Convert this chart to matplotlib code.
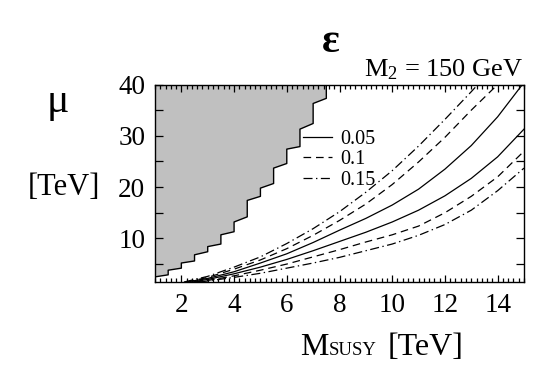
import matplotlib
matplotlib.use("Agg")
import matplotlib.pyplot as plt
from matplotlib.ticker import MultipleLocator, FixedLocator, FixedFormatter

# ---- data ----
# excluded (grey) region: staircase boundary
step_x = [7.5, 7.0, 6.5, 6.0, 5.5, 5.0, 4.5, 4.0, 3.5, 3.0, 2.5, 2.0, 1.5, 1.0]
step_top = [40.0, 36.3, 31.3, 27.4, 23.7, 19.8, 17.4, 13.2, 10.7, 8.4, 6.8, 5.2, 3.8, 2.5]
step_bottom = [37.3, 32.4, 27.9, 24.6, 20.7, 18.2, 14.2, 11.3, 8.9, 7.4, 5.6, 4.2, 2.9, 2.5]

eps_labels = ["0.05", "0.1", "0.15"]

# eps = 0.05 (solid)
up005_x = [2.2, 3, 4, 5, 6, 7, 8, 9, 10, 11, 12, 13, 14, 14.94]
up005_y = [1.5, 2.2, 3.5, 5.2, 7.0, 9.2, 11.6, 13.9, 16.5, 19.6, 23.5, 28.1, 33.7, 40.0]
lo005_x = [2.4, 3, 4, 5, 6, 7, 8, 9, 10, 11, 12, 13, 14, 15]
lo005_y = [1.5, 2.0, 3.1, 4.4, 5.9, 7.6, 9.4, 11.2, 13.2, 15.5, 18.3, 21.7, 25.9, 31.3]
# eps = 0.1 (dashed)
up01_x = [2.2, 3, 4, 5, 6, 7, 8, 9, 10, 11, 12, 13, 14.0]
up01_y = [1.5, 2.4, 4.0, 5.8, 8.0, 10.6, 13.5, 16.7, 20.5, 24.9, 29.7, 35.0, 40.0]
lo01_x = [2.5, 3, 4, 5, 6, 7, 8, 9, 10, 11, 12, 13, 14, 15]
lo01_y = [1.5, 1.8, 2.7, 3.8, 5.0, 6.4, 7.8, 9.3, 10.7, 12.4, 15.0, 18.2, 22.0, 27.0]
# eps = 0.15 (dash-dot)
up015_x = [2.1, 3, 4, 5, 6, 7, 8, 9, 10, 11, 12, 13, 13.25]
up015_y = [1.5, 2.6, 4.4, 6.4, 9.0, 11.9, 15.2, 19.0, 23.2, 28.0, 33.2, 38.6, 40.0]
lo015_x = [2.7, 3, 4, 5, 6, 7, 8, 9, 10, 11, 12, 13, 14, 15]
lo015_y = [1.5, 1.7, 2.4, 3.2, 4.2, 5.2, 6.3, 7.6, 8.9, 10.6, 12.7, 15.5, 19.3, 23.7]

xticks = [2, 4, 6, 8, 10, 12, 14]
yticks = [10, 20, 30, 40]

# ---- style ----
SERIF = ["Liberation Serif", "DejaVu Serif"]
plt.rcParams["font.family"] = SERIF
plt.rcParams["lines.scale_dashes"] = False
plt.rcParams["mathtext.fontset"] = "custom"
plt.rcParams["mathtext.rm"] = "Liberation Serif"
plt.rcParams["mathtext.it"] = "Liberation Serif:italic"
plt.rcParams["mathtext.bf"] = "Liberation Serif:bold"

fig = plt.figure(figsize=(5.45, 3.78), dpi=100)
W, H = 545.0, 378.0
ax = fig.add_axes([155 / W, 1 - 282 / H, (524 - 155) / W, (282 - 84.5) / H])

# grey region
poly_x = [1.0]
poly_y = [40.0]
for xs, yt, yb in zip(step_x, step_top, step_bottom):
    poly_x += [xs, xs]
    poly_y += [yt, yb]
ax.fill(poly_x, poly_y, color="#c0c0c0", lw=0, zorder=1)
edge_x, edge_y = [], []
for xs, yt, yb in zip(step_x, step_top, step_bottom):
    edge_x += [xs, xs]
    edge_y += [yt, yb]
ax.plot(edge_x, edge_y, color="black", lw=1.0, zorder=2)

lw = 0.9
dash = (0, (5.5, 3.5))
dashdot = (0, (6.5, 2.5, 1.0, 2.5))
l1, = ax.plot(up005_x, up005_y, color="black", lw=lw, ls="-")
ax.plot(lo005_x, lo005_y, color="black", lw=lw, ls="-")
l2, = ax.plot(up01_x, up01_y, color="black", lw=lw, ls=dash)
ax.plot(lo01_x, lo01_y, color="black", lw=lw, ls=dash)
l3, = ax.plot(up015_x, up015_y, color="black", lw=lw, ls=dashdot)
ax.plot(lo015_x, lo015_y, color="black", lw=lw, ls=dashdot)

ax.set_xlim(1, 15)
ax.set_ylim(1.5, 40)

ax.xaxis.set_major_locator(FixedLocator(xticks))
ax.xaxis.set_major_formatter(FixedFormatter([str(t) for t in xticks]))
ax.xaxis.set_minor_locator(MultipleLocator(0.2))
ax.yaxis.set_major_locator(FixedLocator(yticks))
ax.yaxis.set_major_formatter(FixedFormatter([str(t) for t in yticks]))
ax.yaxis.set_minor_locator(FixedLocator([5, 15, 25, 35]))

ax.tick_params(axis="both", which="both", direction="in", top=True, right=True,
               color="black", width=0.9)
ax.tick_params(axis="x", which="major", length=5, pad=8, labelsize=19.5)
ax.tick_params(axis="x", which="minor", length=2.8)
ax.tick_params(axis="y", which="major", length=5.5, pad=7, labelsize=19.5)
ax.tick_params(axis="y", which="minor", length=5.5)
for s in ax.spines.values():
    s.set_linewidth(1.0)

leg = ax.legend([l1, l2, l3], eps_labels, loc="upper left",
                bbox_to_anchor=(0.401, 0.772), frameon=False, fontsize=14.5,
                handlelength=1.45, handletextpad=0.4, labelspacing=0.08,
                borderpad=0, borderaxespad=0)

# texts
fig.text(331 / W, 1 - 52 / H, "ε", ha="center", va="baseline", fontsize=30,
         fontweight="bold")
fig.text(523 / W, 1 - 76 / H, r"$\mathrm{M}_{\mathrm{2}}$ = 150 GeV", ha="right",
         va="baseline", fontsize=19)

fig.text(300 / W, 1 - 355 / H, "M", ha="left", va="baseline", fontsize=23)
fig.text(329 / W, 1 - 355 / H, "SUSY", ha="left", va="baseline", fontsize=13.5)
fig.text(388 / W, 1 - 355 / H, "[TeV]", ha="left", va="baseline", fontsize=23)

fig.text(58 / W, 1 - 112 / H, "μ", ha="center", va="baseline", fontsize=30)
fig.text(64 / W, 1 - 195 / H, "[TeV]", ha="center", va="baseline", fontsize=22)

fig.savefig("out.png", dpi=100)
